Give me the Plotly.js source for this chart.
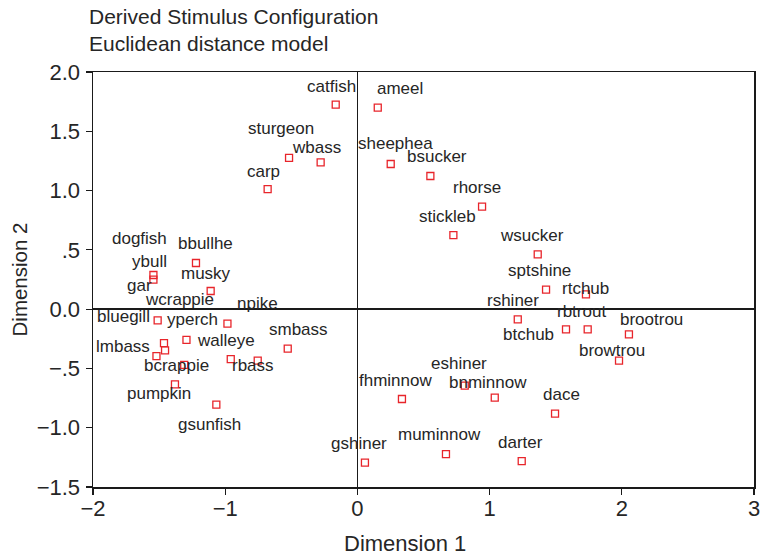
<!DOCTYPE html>
<html>
<head>
<meta charset="utf-8">
<script src="https://cdn.plot.ly/plotly-3.0.1.min.js"></script>
<style>html,body{margin:0;padding:0;background:#fff;}#chart{width:762px;height:555px;}</style>
</head>
<body>
<div id="chart"></div>
<script>
// ---- data ----
var stimuli = ["ybull","dogfish","bbullhe","musky","gar","npike","yperch","wcrappie","bluegill","lmbass","bcrappie",
  "walleye","rbass","smbass","pumpkin","gsunfish",
  "catfish","ameel","sturgeon","wbass","carp","sheephea","bsucker","rhorse","stickleb",
  "wsucker","sptshine","rtchub","rshiner","btchub","rbtrout","brootrou","browtrou",
  "eshiner","fhminnow","bnminnow","dace","gshiner","muminnow","darter"];
var dim1 = [-1.543,-1.543,-1.221,-1.110,-1.511,-0.983,-1.293,-1.463,-1.455,-1.520,-1.310,
  -0.958,-0.754,-0.527,-1.380,-1.067,
  -0.164,0.154,-0.517,-0.278,-0.679,0.252,0.552,0.943,0.726,
  1.364,1.427,1.729,1.213,1.578,1.742,2.054,1.979,
  0.812,0.337,1.039,1.495,0.057,0.670,1.243];
var dim2 = [0.249,0.288,0.389,0.153,-0.094,-0.122,-0.259,-0.286,-0.348,-0.396,-0.470,
  -0.421,-0.434,-0.333,-0.634,-0.806,
  1.725,1.700,1.275,1.238,1.013,1.224,1.123,0.865,0.625,
  0.462,0.164,0.125,-0.086,-0.170,-0.170,-0.213,-0.434,
  -0.645,-0.758,-0.747,-0.881,-1.295,-1.222,-1.281];
var xTickVals = [-2,-1,0,1,2,3];
var xTickText = ["\u22122","\u22121","0","1","2","3"];
var yTickVals = [-1.5,-1.0,-0.5,0,0.5,1.0,1.5,2.0];
var yTickText = ["\u22121.5","\u22121.0","\u2212.5","0.0",".5","1.0","1.5","2.0"];

// ---- label placement (pixel offsets of each label from its point) ----
var labelDx = [-3.5,-14.4,9.2,-5,-17.8,29.6,6,15.5,-42,-33,-7.7,
  -4.7,-4.8,11,-15.5,-6.7,
  -4.5,22.7,-7.6,-4.5,-4.2,4.5,6.3,-5.5,-5.5,
  -5.8,-6.3,0,-4.8,-37.8,-6.2,22.7,-6.6,
  -5.7,-6.3,-6.5,6.7,-6.3,-6.6,-1.3];
var labelDy = [-18.6,-36.7,-19.4,-18,-35,-20,-20.5,-43.4,-34,-9.7,0.8,
  -18.7,5,-19,9.3,19.7,
  -18.3,-19,-29.4,-15.3,-18,-20.4,-19,-19,-18.7,
  -19,-19.3,-6.3,-19,5,-18.3,-15,-10.3,
  -22.6,-18.7,-15.6,-19.3,-19,-19.7,-19];

var FONT = "Arial, 'Liberation Sans', Helvetica, sans-serif";
var TXT = "#262626";

var annotations = stimuli.map(function(s, i){
  return {x: dim1[i], y: dim2[i], xref: "x", yref: "y", text: s, showarrow: false,
    xanchor: "center", yanchor: "middle", xshift: labelDx[i], yshift: -labelDy[i],
    font: {family: FONT, size: 17, color: TXT}};
});
// x-axis title, placed as in the reference (left of the plot centre)
annotations.push({text: "Dimension 1", xref: "paper", yref: "paper", x: (405 - 93) / 661, y: -(543 - 487) / 415,
  xanchor: "center", yanchor: "middle", showarrow: false, font: {family: FONT, size: 22, color: TXT}});

var trace = {
  type: "scatter", mode: "markers", x: dim1, y: dim2, text: stimuli, hoverinfo: "text",
  marker: {symbol: "square-open", size: 7, color: "#e8252b", line: {width: 1.3, color: "#e8252b"}},
  showlegend: false
};

var axisCommon = {
  showgrid: false, zeroline: true, zerolinecolor: "#1a1a1a", zerolinewidth: 1.5,
  showline: true, linecolor: "#1a1a1a", linewidth: 1.5, mirror: true,
  ticks: "outside", ticklen: 6, tickwidth: 1.2, tickcolor: "#1a1a1a",
  tickfont: {family: FONT, size: 22, color: TXT}, fixedrange: true
};

var layout = {
  width: 762, height: 555,
  margin: {l: 93, r: 8, t: 72, b: 68, pad: 0},
  paper_bgcolor: "#ffffff", plot_bgcolor: "#ffffff",
  title: {text: "Derived Stimulus Configuration<br>Euclidean distance model",
    x: 89/762, xanchor: "left", xref: "container", y: 1 - 24/555, yanchor: "top", yref: "container",
    font: {family: FONT, size: 21, color: TXT}},
  xaxis: Object.assign({}, axisCommon, {range: [-2, 3], tickvals: xTickVals, ticktext: xTickText,
    ticklabelstandoff: -5}),
  yaxis: Object.assign({}, axisCommon, {range: [-1.5, 2.0], tickvals: yTickVals, ticktext: yTickText,
    ticklabelstandoff: 1,
    title: {text: "Dimension 2", font: {family: FONT, size: 20.5, color: TXT}, standoff: 3}}),
  annotations: annotations
};

Plotly.newPlot("chart", [trace], layout, {displayModeBar: false, staticPlot: true});
</script>
</body>
</html>
